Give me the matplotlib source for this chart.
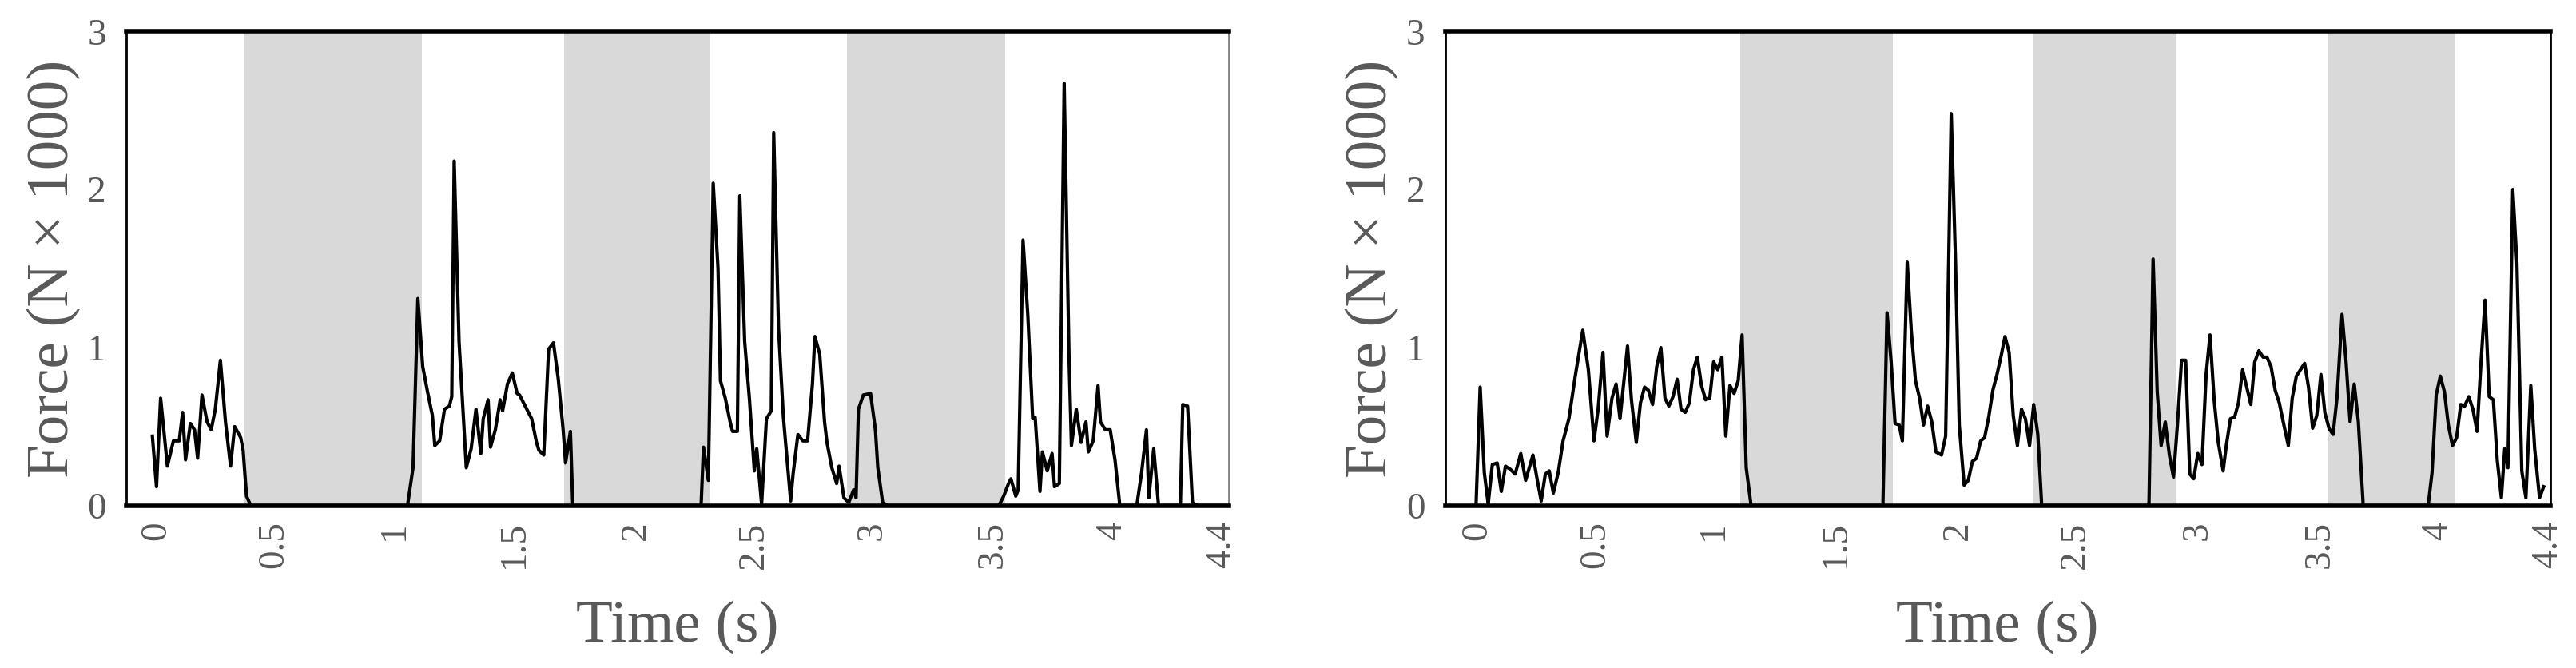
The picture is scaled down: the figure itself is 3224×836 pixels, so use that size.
import matplotlib
matplotlib.use("Agg")
import matplotlib.pyplot as plt

# ---- left trial ----
left_t = [-0.017, 0, 0.017, 0.045, 0.07, 0.094, 0.108, 0.12, 0.14, 0.157, 0.17, 0.188, 0.209,
          0.226, 0.243, 0.264, 0.285, 0.306, 0.323, 0.348, 0.358, 0.372, 0.39, 1.037, 1.06,
          1.08, 1.10, 1.12, 1.14, 1.15, 1.17, 1.19, 1.21, 1.22, 1.23, 1.25, 1.27, 1.28, 1.30,
          1.32, 1.34, 1.35, 1.37, 1.38, 1.40, 1.42, 1.43, 1.45, 1.47, 1.49, 1.50, 1.52, 1.55,
          1.57, 1.58, 1.60, 1.62, 1.64, 1.66, 1.68, 1.69, 1.71, 1.72, 2.25, 2.26, 2.28, 2.30,
          2.32, 2.33, 2.35, 2.37, 2.38, 2.40, 2.41, 2.43, 2.45, 2.47, 2.48, 2.50, 2.52, 2.54,
          2.55, 2.57, 2.59, 2.62, 2.63, 2.65, 2.67, 2.69, 2.71, 2.72, 2.74, 2.76, 2.77, 2.79,
          2.81, 2.82, 2.84, 2.86, 2.88, 2.89, 2.90, 2.92, 2.95, 2.97, 2.98, 3.00, 3.02, 3.48,
          3.50, 3.52, 3.53, 3.55, 3.56, 3.58, 3.60, 3.62, 3.63, 3.65, 3.66, 3.68, 3.70, 3.71,
          3.73, 3.75, 3.77, 3.78, 3.80, 3.82, 3.84, 3.85, 3.87, 3.89, 3.90, 3.92, 3.94, 3.96,
          3.98, 4.05, 4.07, 4.09, 4.10, 4.12, 4.14, 4.23, 4.24, 4.26, 4.28, 4.30, 4.47]
left_f = [0.44, 0.12, 0.68, 0.25, 0.41, 0.41, 0.59, 0.29, 0.52, 0.48, 0.30, 0.70, 0.53,
          0.48, 0.61, 0.92, 0.53, 0.25, 0.50, 0.43, 0.35, 0.06, 0, 0, 0.24,
          1.31, 0.88, 0.72, 0.57, 0.38, 0.41, 0.61, 0.63, 0.69, 2.18, 1.04, 0.51, 0.24, 0.36,
          0.61, 0.33, 0.55, 0.67, 0.37, 0.48, 0.67, 0.60, 0.77, 0.84, 0.71, 0.70, 0.64, 0.55,
          0.40, 0.35, 0.32, 0.99, 1.03, 0.80, 0.48, 0.27, 0.47, 0, 0, 0.37, 0.16, 2.04,
          1.50, 0.79, 0.68, 0.53, 0.47, 0.47, 1.96, 1.04, 0.67, 0.22, 0.36, 0.01, 0.55, 0.60,
          2.36, 1.12, 0.56, 0.03, 0.20, 0.45, 0.41, 0.41, 0.77, 1.07, 0.96, 0.53, 0.40, 0.24,
          0.14, 0.25, 0.05, 0.02, 0.10, 0.05, 0.61, 0.70, 0.71, 0.48, 0.24, 0.02, 0, 0,
          0.06, 0.14, 0.17, 0.06, 0.10, 1.68, 1.20, 0.55, 0.56, 0.09, 0.34, 0.22, 0.33, 0.12,
          0.14, 2.67, 0.94, 0.38, 0.61, 0.40, 0.53, 0.34, 0.41, 0.76, 0.53, 0.48, 0.48, 0.29,
          0, 0, 0.21, 0.48, 0.05, 0.36, 0, 0, 0.64, 0.63, 0.02, 0, 0]
left_shade = [(0.365, 1.096), (1.683, 2.289), (2.852, 3.506)]
left_tick_pos = [0, 0.487, 0.984, 1.478, 1.983, 2.470, 2.957, 3.454, 3.948, 4.4]
left_xlim = (-0.125, 4.43)

# ---- right trial ----
right_t = [-0.007, 0.01, 0.027, 0.043, 0.06, 0.08, 0.097, 0.114, 0.134, 0.154, 0.177, 0.197,
           0.227, 0.244, 0.261, 0.278, 0.294, 0.311, 0.331, 0.351, 0.375, 0.401, 0.432, 0.455,
           0.478, 0.495, 0.515, 0.532, 0.552, 0.569, 0.585, 0.616, 0.632, 0.652, 0.669, 0.686,
           0.702, 0.719, 0.736, 0.753, 0.77, 0.786, 0.803, 0.82, 0.836, 0.853, 0.87, 0.887,
           0.903, 0.92, 0.937, 0.954, 0.97, 0.987, 1.004, 1.02, 1.037, 1.054, 1.071, 1.087,
           1.104, 1.124, 1.666, 1.683, 1.70, 1.716, 1.733, 1.746, 1.766, 1.783, 1.80, 1.817,
           1.833, 1.85, 1.867, 1.884, 1.907, 1.924, 1.947, 1.964, 1.98, 2.00, 2.017, 2.034,
           2.051, 2.068, 2.084, 2.101, 2.118, 2.135, 2.151, 2.168, 2.185, 2.202, 2.219, 2.236,
           2.252, 2.269, 2.286, 2.303, 2.319, 2.76, 2.777, 2.794, 2.81, 2.827, 2.844, 2.861,
           2.877, 2.894, 2.911, 2.928, 2.944, 2.961, 2.978, 2.995, 3.011, 3.028, 3.045, 3.065,
           3.078, 3.095, 3.112, 3.128, 3.145, 3.162, 3.179, 3.195, 3.212, 3.229, 3.245, 3.262,
           3.279, 3.296, 3.312, 3.333, 3.349, 3.366, 3.383, 3.4, 3.416, 3.433, 3.45, 3.467,
           3.483, 3.5, 3.517, 3.533, 3.554, 3.57, 3.587, 3.604, 3.621, 3.641, 3.908, 3.924,
           3.941, 3.958, 3.975, 3.991, 4.008, 4.025, 4.042, 4.058, 4.075, 4.092, 4.109, 4.125,
           4.142, 4.159, 4.176, 4.192, 4.209, 4.223, 4.236, 4.256, 4.273, 4.293, 4.31, 4.33,
           4.346, 4.366, 4.383]
right_f = [0, 0.75, 0.21, 0.01, 0.26, 0.27, 0.09, 0.25, 0.23, 0.20, 0.33, 0.16,
           0.32, 0.17, 0.03, 0.20, 0.22, 0.08, 0.21, 0.41, 0.55, 0.82, 1.11, 0.86,
           0.41, 0.61, 0.97, 0.44, 0.68, 0.77, 0.55, 1.01, 0.67, 0.40, 0.65, 0.75,
           0.73, 0.64, 0.88, 1.00, 0.68, 0.63, 0.69, 0.80, 0.61, 0.59, 0.65, 0.86,
           0.94, 0.76, 0.67, 0.68, 0.91, 0.86, 0.94, 0.44, 0.76, 0.71, 0.79, 1.08,
           0.24, 0, 0, 1.22, 0.91, 0.52, 0.51, 0.41, 1.54, 1.10, 0.79, 0.68,
           0.51, 0.63, 0.53, 0.34, 0.32, 0.44, 2.48, 1.58, 0.51, 0.13, 0.16, 0.28,
           0.30, 0.41, 0.43, 0.56, 0.73, 0.83, 0.94, 1.07, 0.97, 0.57, 0.38, 0.61,
           0.55, 0.38, 0.64, 0.45, 0, 0, 1.56, 0.72, 0.38, 0.53, 0.32, 0.18,
           0.51, 0.92, 0.92, 0.20, 0.17, 0.33, 0.26, 0.83, 1.08, 0.67, 0.40, 0.22,
           0.38, 0.55, 0.56, 0.65, 0.86, 0.75, 0.64, 0.91, 0.98, 0.94, 0.94, 0.88,
           0.73, 0.65, 0.53, 0.38, 0.68, 0.82, 0.86, 0.90, 0.75, 0.49, 0.57, 0.83,
           0.59, 0.49, 0.45, 0.68, 1.21, 0.92, 0.53, 0.77, 0.53, 0, 0, 0.21,
           0.70, 0.82, 0.72, 0.51, 0.38, 0.43, 0.64, 0.63, 0.69, 0.61, 0.47, 0.90,
           1.30, 0.69, 0.67, 0.29, 0.05, 0.36, 0.24, 2.00, 1.53, 0.22, 0.05, 0.76,
           0.36, 0.05, 0.12]
right_shade = [(1.081, 1.706), (2.282, 2.870), (3.496, 4.021)]
right_tick_pos = [0, 0.485, 0.970, 1.472, 1.974, 2.459, 2.961, 3.463, 3.948, 4.4]
right_xlim = (-0.134, 4.41)

tick_labels = ["0", "0.5", "1", "1.5", "2", "2.5", "3", "3.5", "4", "4.4"]
y_ticks = [0, 1, 2, 3]

GRAY = "#595959"
SHADE = "#d9d9d9"
plt.rcParams["font.family"] = ["Liberation Serif", "DejaVu Serif"]

fig = plt.figure(figsize=(32.24, 8.36), dpi=100)
ax_l = fig.add_axes([0.049, 0.243, 0.428, 0.71])
ax_r = fig.add_axes([0.561, 0.243, 0.429, 0.71])


def draw_panel(ax, t, f, shades, tick_pos, xlim):
    for a, b in shades:
        ax.axvspan(a, b, color=SHADE, lw=0, zorder=0)
    ax.plot(t, f, color="black", lw=3, zorder=2)
    ax.set_xlim(*xlim)
    ax.set_ylim(0, 3)
    ax.set_xticks(tick_pos)
    ax.set_xticklabels(tick_labels, rotation=90)
    ax.set_yticks(y_ticks)
    ax.tick_params(length=0, labelsize=34, labelcolor=GRAY)
    ax.tick_params(axis="x", pad=14)
    ax.tick_params(axis="y", pad=18)
    ax.set_xlabel("Time (s)", fontsize=54, color=GRAY)
    ax.xaxis.set_label_coords(0.5, -0.2)
    ax.set_ylabel("Force (N \u00d7 1000)", fontsize=54, color=GRAY, labelpad=6)
    for side in ("top", "bottom"):
        ax.spines[side].set_linewidth(4)
    for side in ("left", "right"):
        ax.spines[side].set_linewidth(2)


draw_panel(ax_l, left_t, left_f, left_shade, left_tick_pos, left_xlim)
draw_panel(ax_r, right_t, right_f, right_shade, right_tick_pos, right_xlim)
ax_l.spines["right"].set_color("#808080")

fig.savefig("out.png", dpi=100)
plt.close(fig)
